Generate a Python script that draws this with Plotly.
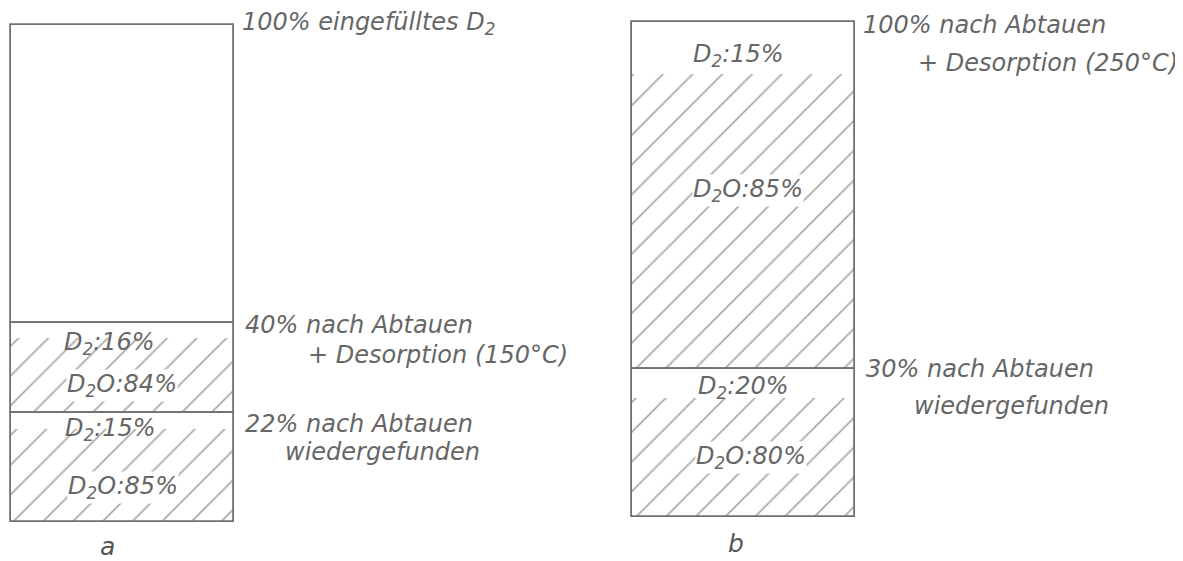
import plotly.graph_objects as go

# ---------------- data ----------------
# panel a: cumulative levels (% of filled D2) of the stacked segments
a_levels = [22, 40, 100]
a_d2 = [15, 16]          # D2 share inside each measured segment (%)
a_d2o = [85, 84]         # D2O share inside each measured segment (%)
a_level_text = ["22% nach Abtauen", "40% nach Abtauen", "100% eingefülltes D<sub>2</sub>"]
a_level_text2 = ["wiedergefunden", "+ Desorption (150°C)", ""]

# panel b
b_levels = [30, 100]
b_d2 = [20, 15]
b_d2o = [80, 85]
b_level_text = ["30% nach Abtauen", "100% nach Abtauen"]
b_level_text2 = ["wiedergefunden", "+ Desorption (250°C)"]

panel_names = ["a", "b"]

# ---------------- layout constants ----------------
WIN_W, WIN_H = 1183, 561
OFF = 8                      # default page body margin
FW, FH = WIN_W - OFF, WIN_H - OFF
GRAY = "#666666"
LINE = "#707070"
FONT = dict(family="DejaVu Sans", size=24, color=GRAY, style="italic")

def pxx(x):
    return (x - OFF) / FW

def pyy(y):
    return 1 - (y - OFF) / FH

# bar pixel boxes in window coords (left, right, top, bottom)
boxes = {"a": (11, 234, 25, 522), "b": (632, 855, 22, 517)}
PAD = 3

# inside-label positions: (xfrac, yfrac within segment) for D2 and D2O labels
a_lab_pos = [((0.448, 0.844), (0.502, 0.312)), ((0.444, 0.778), (0.498, 0.30))]
b_lab_pos = [((0.502, 0.873), (0.534, 0.40)), ((0.48, 0.904), (0.52, 0.513))]

# right-side text positions: (left px, yshift px) line1, (left px, yshift) line2
a_txt_pos = [((243, -11), (283, -39)), ((243, -2), (306, -32)), ((240, 2), (0, 0))]
b_txt_pos = [((864, 0), (912, -37)), ((861, -3), (916, -41))]

# panel letter positions: (xfrac in bar, yshift px below bottom)
name_pos = {"a": (0.435, -24), "b": (0.466, -26)}

fig = go.Figure()
annotations = []

def add_panel(name, levels, d2, d2o, lab_pos, t1, t2, tpos, axn):
    xref = "x" if axn == 1 else "x2"
    yref = "y" if axn == 1 else "y2"
    bases = [0] + levels[:-1]
    heights = [levels[i] - bases[i] for i in range(len(levels))]
    nmeas = len(d2o)
    # hatched D2O parts
    fig.add_trace(go.Bar(
        x=[name] * nmeas,
        y=[heights[i] * d2o[i] / 100 for i in range(nmeas)],
        base=bases[:nmeas],
        width=1,
        marker=dict(color="white", line=dict(width=0),
                    pattern=dict(shape="/", size=21, solidity=0.09,
                                 fgcolor="#5a5a5a", bgcolor="white")),
        xaxis=xref, yaxis=yref, showlegend=False, hoverinfo="skip",
    ))
    # outlines of all segments
    fig.add_trace(go.Bar(
        x=[name] * len(levels), y=heights, base=bases, width=1,
        marker=dict(color="rgba(0,0,0,0)", line=dict(width=1.8, color=LINE)),
        xaxis=xref, yaxis=yref, showlegend=False, hoverinfo="skip",
    ))
    # inside labels
    for i in range(nmeas):
        (dx, dy), (ox, oy) = lab_pos[i]
        annotations.append(dict(
            text=f"D<sub>2</sub>:{d2[i]}%", xref=f"{xref} domain", yref=yref,
            x=dx, y=bases[i] + dy * heights[i], showarrow=False, font=FONT,
            xanchor="center", yanchor="middle"))
        annotations.append(dict(
            text=f"D<sub>2</sub>O:{d2o[i]}%", xref=f"{xref} domain", yref=yref,
            x=ox, y=bases[i] + oy * heights[i], showarrow=False, font=FONT,
            xanchor="center", yanchor="middle", bgcolor="white", borderpad=0))
    # right side texts
    for i, lv in enumerate(levels):
        (lx1, s1), (lx2, s2) = tpos[i]
        annotations.append(dict(
            text=t1[i], xref="paper", yref=yref, x=pxx(lx1), y=lv, yshift=s1,
            showarrow=False, font=FONT, xanchor="left", yanchor="middle"))
        if t2[i]:
            annotations.append(dict(
                text=t2[i], xref="paper", yref=yref, x=pxx(lx2), y=lv, yshift=s2,
                showarrow=False, font=FONT, xanchor="left", yanchor="middle"))
    # panel letter
    nx, ns = name_pos[name]
    annotations.append(dict(
        text=name, xref=f"{xref} domain", yref=yref, x=nx, y=0, yshift=ns,
        showarrow=False, font=dict(family="DejaVu Sans", size=25, color="#555", style="italic"),
        xanchor="center", yanchor="middle"))

add_panel("a", a_levels, a_d2, a_d2o, a_lab_pos, a_level_text, a_level_text2, a_txt_pos, 1)
add_panel("b", b_levels, b_d2, b_d2o, b_lab_pos, b_level_text, b_level_text2, b_txt_pos, 2)

def axes(name):
    l, r, t, b = boxes[name]
    xpad = PAD / (r - l)
    ypu = (b - t) / 100.0
    ypad = PAD / ypu
    xa = dict(domain=[pxx(l - PAD), pxx(r + PAD)], range=[-0.5 - xpad, 0.5 + xpad],
              type="category", visible=False, fixedrange=True)
    ya = dict(domain=[pyy(b + PAD), pyy(t - PAD)], range=[-ypad, 100 + ypad],
              visible=False, fixedrange=True)
    return xa, ya

xa1, ya1 = axes("a")
xa2, ya2 = axes("b")
xa1["anchor"] = "y"
ya1["anchor"] = "x"
xa2["anchor"] = "y2"
ya2["anchor"] = "x2"

fig.update_layout(
    width=FW, height=FH, margin=dict(l=0, r=0, t=0, b=0),
    paper_bgcolor="white", plot_bgcolor="rgba(0,0,0,0)",
    barmode="overlay", bargap=0,
    xaxis=xa1, yaxis=ya1, xaxis2=xa2, yaxis2=ya2,
    annotations=annotations, showlegend=False,
)

fig.write_html("out.html")
